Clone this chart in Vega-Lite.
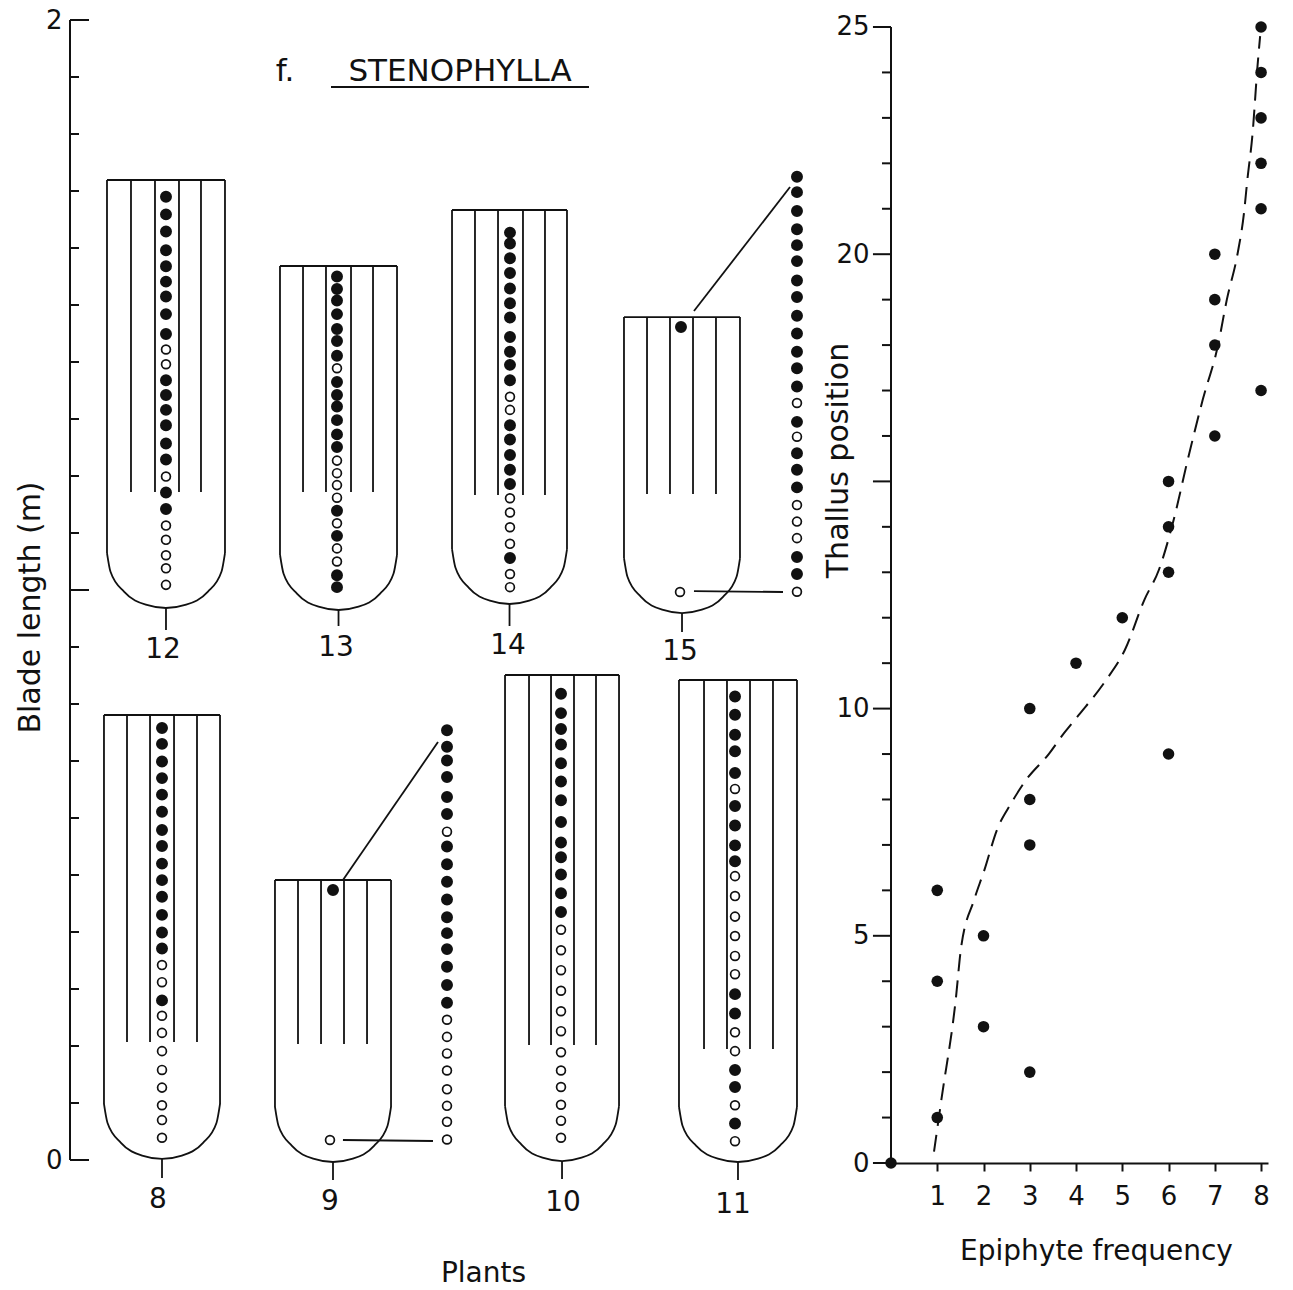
{
  "$schema": "https://vega.github.io/schema/vega-lite/v6.json",
  "background": "white",
  "padding": {"left": 15, "top": 7, "right": 5, "bottom": 5},
  "config": {
    "view": {"stroke": null},
    "font": "DejaVu Sans",
    "axis": {"grid": false, "labelFont": "DejaVu Sans", "titleFont": "DejaVu Sans", "labelFontSize": 26, "titleFontWeight": "normal", "labelColor": "#111", "titleColor": "#111", "domainColor": "#111", "tickColor": "#111", "domainWidth": 2, "tickWidth": 2},
    "text": {"font": "DejaVu Sans", "color": "#111"}
  },
  "datasets": {
    "segs": [
      {"x":0.0649,"y":1.7193,"x2":0.0649,"y2":1.0649},{"x":0.2719,"y":1.7193,"x2":0.2719,"y2":1.0649},{"x":0.0649,"y":1.7193,"x2":0.2719,"y2":1.7193},
      {"x":0.1070,"y":1.7193,"x2":0.1070,"y2":1.1719},{"x":0.1491,"y":1.7193,"x2":0.1491,"y2":1.1719},{"x":0.1912,"y":1.7193,"x2":0.1912,"y2":1.1719},{"x":0.2298,"y":1.7193,"x2":0.2298,"y2":1.1719},
      {"x":0.1684,"y":0.9684,"x2":0.1684,"y2":0.9298},
      {"x":0.3684,"y":1.5684,"x2":0.3684,"y2":1.0614},{"x":0.5737,"y":1.5684,"x2":0.5737,"y2":1.0614},{"x":0.3684,"y":1.5684,"x2":0.5737,"y2":1.5684},
      {"x":0.4088,"y":1.5684,"x2":0.4088,"y2":1.1719},{"x":0.4491,"y":1.5684,"x2":0.4491,"y2":1.1719},{"x":0.4930,"y":1.5684,"x2":0.4930,"y2":1.1719},{"x":0.5316,"y":1.5684,"x2":0.5316,"y2":1.1719},
      {"x":0.4711,"y":0.9649,"x2":0.4711,"y2":0.9368},
      {"x":0.6702,"y":1.6667,"x2":0.6702,"y2":1.0719},{"x":0.8719,"y":1.6667,"x2":0.8719,"y2":1.0719},{"x":0.6702,"y":1.6667,"x2":0.8719,"y2":1.6667},
      {"x":0.7105,"y":1.6667,"x2":0.7105,"y2":1.1667},{"x":0.7509,"y":1.6667,"x2":0.7509,"y2":1.1667},{"x":0.7947,"y":1.6667,"x2":0.7947,"y2":1.1667},{"x":0.8333,"y":1.6667,"x2":0.8333,"y2":1.1667},
      {"x":0.7711,"y":0.9754,"x2":0.7711,"y2":0.9368},
      {"x":0.9719,"y":1.4789,"x2":0.9719,"y2":1.0561},{"x":1.1754,"y":1.4789,"x2":1.1754,"y2":1.0561},{"x":0.9719,"y":1.4789,"x2":1.1754,"y2":1.4789},
      {"x":1.0123,"y":1.4789,"x2":1.0123,"y2":1.1684},{"x":1.0526,"y":1.4789,"x2":1.0526,"y2":1.1684},{"x":1.0930,"y":1.4789,"x2":1.0930,"y2":1.1684},{"x":1.1333,"y":1.4789,"x2":1.1333,"y2":1.1684},
      {"x":1.0737,"y":0.9596,"x2":1.0737,"y2":0.9263},
      {"x":1.0947,"y":1.4895,"x2":1.2632,"y2":1.7070},{"x":1.0947,"y":0.9982,"x2":1.2509,"y2":0.9965},
      {"x":0.0596,"y":0.7807,"x2":0.0596,"y2":0.0983},{"x":0.2632,"y":0.7807,"x2":0.2632,"y2":0.0983},{"x":0.0596,"y":0.7807,"x2":0.2632,"y2":0.7807},
      {"x":0.1000,"y":0.7807,"x2":0.1000,"y2":0.2070},{"x":0.1404,"y":0.7807,"x2":0.1404,"y2":0.2070},{"x":0.1825,"y":0.7807,"x2":0.1825,"y2":0.2070},{"x":0.2228,"y":0.7807,"x2":0.2228,"y2":0.2070},
      {"x":0.1614,"y":0.0018,"x2":0.1614,"y2":-0.0316},
      {"x":0.3596,"y":0.4912,"x2":0.3596,"y2":0.0930},{"x":0.5632,"y":0.4912,"x2":0.5632,"y2":0.0930},{"x":0.3596,"y":0.4912,"x2":0.5632,"y2":0.4912},
      {"x":0.4000,"y":0.4912,"x2":0.4000,"y2":0.2035},{"x":0.4404,"y":0.4912,"x2":0.4404,"y2":0.2035},{"x":0.4807,"y":0.4912,"x2":0.4807,"y2":0.2035},{"x":0.5211,"y":0.4912,"x2":0.5211,"y2":0.2035},
      {"x":0.4614,"y":-0.0035,"x2":0.4614,"y2":-0.0351},
      {"x":0.4789,"y":0.4912,"x2":0.6456,"y2":0.7333},{"x":0.4789,"y":0.0351,"x2":0.6368,"y2":0.0333},
      {"x":0.7632,"y":0.8509,"x2":0.7632,"y2":0.0947},{"x":0.9632,"y":0.8509,"x2":0.9632,"y2":0.0947},{"x":0.7632,"y":0.8509,"x2":0.9632,"y2":0.8509},
      {"x":0.8053,"y":0.8509,"x2":0.8053,"y2":0.2018},{"x":0.8439,"y":0.8509,"x2":0.8439,"y2":0.2018},{"x":0.8842,"y":0.8509,"x2":0.8842,"y2":0.2018},{"x":0.9228,"y":0.8509,"x2":0.9228,"y2":0.2018},
      {"x":0.8632,"y":-0.0018,"x2":0.8632,"y2":-0.0333},
      {"x":1.0684,"y":0.8421,"x2":1.0684,"y2":0.0930},{"x":1.2754,"y":0.8421,"x2":1.2754,"y2":0.0930},{"x":1.0684,"y":0.8421,"x2":1.2754,"y2":0.8421},
      {"x":1.1123,"y":0.8421,"x2":1.1123,"y2":0.1947},{"x":1.1526,"y":0.8421,"x2":1.1526,"y2":0.1947},{"x":1.1930,"y":0.8421,"x2":1.1930,"y2":0.1947},{"x":1.2333,"y":0.8421,"x2":1.2333,"y2":0.1947},
      {"x":1.1719,"y":-0.0035,"x2":1.1719,"y2":-0.0351},
      {"x":0.4579,"y":1.8825,"x2":0.9105,"y2":1.8825}
    ],
    "lax": [
      {"x":0,"y":0,"x2":0,"y2":2},
      {"x":0,"y":0,"x2":0.0333,"y2":0},{"x":0,"y":0.1,"x2":0.0158,"y2":0.1},{"x":0,"y":0.2,"x2":0.0158,"y2":0.2},{"x":0,"y":0.3,"x2":0.0158,"y2":0.3},
      {"x":0,"y":0.4,"x2":0.0158,"y2":0.4},{"x":0,"y":0.5,"x2":0.0158,"y2":0.5},{"x":0,"y":0.6,"x2":0.0158,"y2":0.6},{"x":0,"y":0.7,"x2":0.0158,"y2":0.7},
      {"x":0,"y":0.8,"x2":0.0158,"y2":0.8},{"x":0,"y":0.9,"x2":0.0158,"y2":0.9},{"x":0,"y":1,"x2":0.0333,"y2":1},{"x":0,"y":1.1,"x2":0.0158,"y2":1.1},
      {"x":0,"y":1.2,"x2":0.0158,"y2":1.2},{"x":0,"y":1.3,"x2":0.0158,"y2":1.3},{"x":0,"y":1.4,"x2":0.0158,"y2":1.4},{"x":0,"y":1.5,"x2":0.0158,"y2":1.5},
      {"x":0,"y":1.6,"x2":0.0158,"y2":1.6},{"x":0,"y":1.7,"x2":0.0158,"y2":1.7},{"x":0,"y":1.8,"x2":0.0158,"y2":1.8},{"x":0,"y":1.9,"x2":0.0158,"y2":1.9},
      {"x":0,"y":2,"x2":0.0333,"y2":2}
    ],
    "ucurve": [
      {"p":12,"x":0.0649,"y":1.0649},{"p":12,"x":0.0711,"y":1.0319},{"p":12,"x":0.0952,"y":0.9967},{"p":12,"x":0.1330,"y":0.9742},{"p":12,"x":0.1684,"y":0.9684},{"p":12,"x":0.2038,"y":0.9742},{"p":12,"x":0.2416,"y":0.9967},{"p":12,"x":0.2657,"y":1.0319},{"p":12,"x":0.2719,"y":1.0649},
      {"p":13,"x":0.3685,"y":1.0614},{"p":13,"x":0.3747,"y":1.0284},{"p":13,"x":0.3986,"y":0.9932},{"p":13,"x":0.4360,"y":0.9707},{"p":13,"x":0.4711,"y":0.9649},{"p":13,"x":0.5062,"y":0.9707},{"p":13,"x":0.5436,"y":0.9932},{"p":13,"x":0.5675,"y":1.0284},{"p":13,"x":0.5737,"y":1.0614},
      {"p":14,"x":0.6702,"y":1.0719},{"p":14,"x":0.6763,"y":1.0389},{"p":14,"x":0.6998,"y":1.0037},{"p":14,"x":0.7366,"y":0.9812},{"p":14,"x":0.7711,"y":0.9754},{"p":14,"x":0.8056,"y":0.9812},{"p":14,"x":0.8424,"y":1.0037},{"p":14,"x":0.8659,"y":1.0389},{"p":14,"x":0.8720,"y":1.0719},
      {"p":15,"x":0.9719,"y":1.0561},{"p":15,"x":0.9780,"y":1.0231},{"p":15,"x":1.0017,"y":0.9879},{"p":15,"x":1.0389,"y":0.9654},{"p":15,"x":1.0737,"y":0.9596},{"p":15,"x":1.1085,"y":0.9654},{"p":15,"x":1.1457,"y":0.9879},{"p":15,"x":1.1694,"y":1.0231},{"p":15,"x":1.1755,"y":1.0561},
      {"p":8,"x":0.0596,"y":0.0983},{"p":8,"x":0.0657,"y":0.0653},{"p":8,"x":0.0894,"y":0.0301},{"p":8,"x":0.1266,"y":0.0076},{"p":8,"x":0.1614,"y":0.0018},{"p":8,"x":0.1962,"y":0.0076},{"p":8,"x":0.2334,"y":0.0301},{"p":8,"x":0.2571,"y":0.0653},{"p":8,"x":0.2632,"y":0.0983},
      {"p":9,"x":0.3596,"y":0.0930},{"p":9,"x":0.3657,"y":0.0600},{"p":9,"x":0.3894,"y":0.0248},{"p":9,"x":0.4266,"y":0.0023},{"p":9,"x":0.4614,"y":-0.0035},{"p":9,"x":0.4962,"y":0.0023},{"p":9,"x":0.5334,"y":0.0248},{"p":9,"x":0.5571,"y":0.0600},{"p":9,"x":0.5632,"y":0.0930},
      {"p":10,"x":0.7632,"y":0.0947},{"p":10,"x":0.7692,"y":0.0617},{"p":10,"x":0.7925,"y":0.0265},{"p":10,"x":0.8290,"y":0.0040},{"p":10,"x":0.8632,"y":-0.0018},{"p":10,"x":0.8974,"y":0.0040},{"p":10,"x":0.9339,"y":0.0265},{"p":10,"x":0.9572,"y":0.0617},{"p":10,"x":0.9632,"y":0.0947},
      {"p":11,"x":1.0684,"y":0.0930},{"p":11,"x":1.0746,"y":0.0600},{"p":11,"x":1.0987,"y":0.0248},{"p":11,"x":1.1365,"y":0.0023},{"p":11,"x":1.1719,"y":-0.0035},{"p":11,"x":1.2073,"y":0.0023},{"p":11,"x":1.2451,"y":0.0248},{"p":11,"x":1.2692,"y":0.0600},{"p":11,"x":1.2754,"y":0.0930}
    ],
    "dots": [
      {"p":12,"n":25,"f":1,"x":0.1684,"y":1.690},{"p":12,"n":24,"f":1,"x":0.1684,"y":1.659},{"p":12,"n":23,"f":1,"x":0.1684,"y":1.629},{"p":12,"n":22,"f":1,"x":0.1684,"y":1.596},{"p":12,"n":21,"f":1,"x":0.1684,"y":1.568},
      {"p":12,"n":20,"f":1,"x":0.1684,"y":1.541},{"p":12,"n":19,"f":1,"x":0.1684,"y":1.515},{"p":12,"n":18,"f":1,"x":0.1684,"y":1.484},{"p":12,"n":17,"f":1,"x":0.1684,"y":1.449},{"p":12,"n":16,"f":0,"x":0.1684,"y":1.422},
      {"p":12,"n":15,"f":0,"x":0.1684,"y":1.396},{"p":12,"n":14,"f":1,"x":0.1684,"y":1.368},{"p":12,"n":13,"f":1,"x":0.1684,"y":1.342},{"p":12,"n":12,"f":1,"x":0.1684,"y":1.316},{"p":12,"n":11,"f":1,"x":0.1684,"y":1.289},
      {"p":12,"n":10,"f":1,"x":0.1684,"y":1.257},{"p":12,"n":9,"f":1,"x":0.1684,"y":1.229},{"p":12,"n":8,"f":0,"x":0.1684,"y":1.199},{"p":12,"n":7,"f":1,"x":0.1684,"y":1.171},{"p":12,"n":6,"f":1,"x":0.1684,"y":1.142},
      {"p":12,"n":5,"f":0,"x":0.1684,"y":1.113},{"p":12,"n":4,"f":0,"x":0.1684,"y":1.088},{"p":12,"n":3,"f":0,"x":0.1684,"y":1.061},{"p":12,"n":2,"f":0,"x":0.1684,"y":1.038},{"p":12,"n":1,"f":0,"x":0.1684,"y":1.009},
      {"p":13,"n":25,"f":1,"x":0.4684,"y":1.550},{"p":13,"n":24,"f":1,"x":0.4684,"y":1.528},{"p":13,"n":23,"f":1,"x":0.4684,"y":1.508},{"p":13,"n":22,"f":1,"x":0.4684,"y":1.484},{"p":13,"n":21,"f":1,"x":0.4684,"y":1.458},
      {"p":13,"n":20,"f":1,"x":0.4684,"y":1.437},{"p":13,"n":19,"f":1,"x":0.4684,"y":1.411},{"p":13,"n":18,"f":0,"x":0.4684,"y":1.389},{"p":13,"n":17,"f":1,"x":0.4684,"y":1.365},{"p":13,"n":16,"f":1,"x":0.4684,"y":1.342},
      {"p":13,"n":15,"f":1,"x":0.4684,"y":1.322},{"p":13,"n":14,"f":1,"x":0.4684,"y":1.298},{"p":13,"n":13,"f":1,"x":0.4684,"y":1.273},{"p":13,"n":12,"f":1,"x":0.4684,"y":1.251},{"p":13,"n":11,"f":0,"x":0.4684,"y":1.227},
      {"p":13,"n":10,"f":0,"x":0.4684,"y":1.205},{"p":13,"n":9,"f":0,"x":0.4684,"y":1.184},{"p":13,"n":8,"f":0,"x":0.4684,"y":1.162},{"p":13,"n":7,"f":1,"x":0.4684,"y":1.139},{"p":13,"n":6,"f":0,"x":0.4684,"y":1.117},
      {"p":13,"n":5,"f":1,"x":0.4684,"y":1.095},{"p":13,"n":4,"f":0,"x":0.4684,"y":1.073},{"p":13,"n":3,"f":0,"x":0.4684,"y":1.050},{"p":13,"n":2,"f":1,"x":0.4684,"y":1.026},{"p":13,"n":1,"f":1,"x":0.4684,"y":1.005},
      {"p":14,"n":25,"f":1,"x":0.7719,"y":1.627},{"p":14,"n":24,"f":1,"x":0.7719,"y":1.608},{"p":14,"n":23,"f":1,"x":0.7719,"y":1.582},{"p":14,"n":22,"f":1,"x":0.7719,"y":1.556},{"p":14,"n":21,"f":1,"x":0.7719,"y":1.529},
      {"p":14,"n":20,"f":1,"x":0.7719,"y":1.503},{"p":14,"n":19,"f":1,"x":0.7719,"y":1.478},{"p":14,"n":18,"f":1,"x":0.7719,"y":1.444},{"p":14,"n":17,"f":1,"x":0.7719,"y":1.418},{"p":14,"n":16,"f":1,"x":0.7719,"y":1.395},
      {"p":14,"n":15,"f":1,"x":0.7719,"y":1.368},{"p":14,"n":14,"f":0,"x":0.7719,"y":1.339},{"p":14,"n":13,"f":0,"x":0.7719,"y":1.316},{"p":14,"n":12,"f":1,"x":0.7719,"y":1.289},{"p":14,"n":11,"f":1,"x":0.7719,"y":1.264},
      {"p":14,"n":10,"f":1,"x":0.7719,"y":1.237},{"p":14,"n":9,"f":1,"x":0.7719,"y":1.211},{"p":14,"n":8,"f":1,"x":0.7719,"y":1.186},{"p":14,"n":7,"f":0,"x":0.7719,"y":1.161},{"p":14,"n":6,"f":0,"x":0.7719,"y":1.136},
      {"p":14,"n":5,"f":0,"x":0.7719,"y":1.110},{"p":14,"n":4,"f":0,"x":0.7719,"y":1.081},{"p":14,"n":3,"f":1,"x":0.7719,"y":1.056},{"p":14,"n":2,"f":0,"x":0.7719,"y":1.028},{"p":14,"n":1,"f":0,"x":0.7719,"y":1.005},
      {"p":15,"n":25,"f":1,"x":1.2754,"y":1.725},{"p":15,"n":24,"f":1,"x":1.2754,"y":1.698},{"p":15,"n":23,"f":1,"x":1.2754,"y":1.665},{"p":15,"n":22,"f":1,"x":1.2754,"y":1.633},{"p":15,"n":21,"f":1,"x":1.2754,"y":1.605},
      {"p":15,"n":20,"f":1,"x":1.2754,"y":1.577},{"p":15,"n":19,"f":1,"x":1.2754,"y":1.543},{"p":15,"n":18,"f":1,"x":1.2754,"y":1.514},{"p":15,"n":17,"f":1,"x":1.2754,"y":1.481},{"p":15,"n":16,"f":1,"x":1.2754,"y":1.450},
      {"p":15,"n":15,"f":1,"x":1.2754,"y":1.418},{"p":15,"n":14,"f":1,"x":1.2754,"y":1.389},{"p":15,"n":13,"f":1,"x":1.2754,"y":1.357},{"p":15,"n":12,"f":0,"x":1.2754,"y":1.328},{"p":15,"n":11,"f":1,"x":1.2754,"y":1.295},
      {"p":15,"n":10,"f":0,"x":1.2754,"y":1.269},{"p":15,"n":9,"f":1,"x":1.2754,"y":1.240},{"p":15,"n":8,"f":1,"x":1.2754,"y":1.211},{"p":15,"n":7,"f":1,"x":1.2754,"y":1.180},{"p":15,"n":6,"f":0,"x":1.2754,"y":1.149},
      {"p":15,"n":5,"f":0,"x":1.2754,"y":1.120},{"p":15,"n":4,"f":0,"x":1.2754,"y":1.091},{"p":15,"n":3,"f":1,"x":1.2754,"y":1.058},{"p":15,"n":2,"f":1,"x":1.2754,"y":1.028},{"p":15,"n":1,"f":0,"x":1.2754,"y":0.997},
      {"p":15,"n":25,"f":1,"x":1.0719,"y":1.4614,"k":"inset"},{"p":15,"n":1,"f":0,"x":1.0702,"y":0.9965,"k":"inset"},
      {"p":8,"n":25,"f":1,"x":0.1614,"y":0.758},{"p":8,"n":24,"f":1,"x":0.1614,"y":0.730},{"p":8,"n":23,"f":1,"x":0.1614,"y":0.699},{"p":8,"n":22,"f":1,"x":0.1614,"y":0.670},{"p":8,"n":21,"f":1,"x":0.1614,"y":0.641},
      {"p":8,"n":20,"f":1,"x":0.1614,"y":0.611},{"p":8,"n":19,"f":1,"x":0.1614,"y":0.579},{"p":8,"n":18,"f":1,"x":0.1614,"y":0.551},{"p":8,"n":17,"f":1,"x":0.1614,"y":0.520},{"p":8,"n":16,"f":1,"x":0.1614,"y":0.491},
      {"p":8,"n":15,"f":1,"x":0.1614,"y":0.462},{"p":8,"n":14,"f":1,"x":0.1614,"y":0.430},{"p":8,"n":13,"f":1,"x":0.1614,"y":0.399},{"p":8,"n":12,"f":1,"x":0.1614,"y":0.371},{"p":8,"n":11,"f":0,"x":0.1614,"y":0.342},
      {"p":8,"n":10,"f":0,"x":0.1614,"y":0.312},{"p":8,"n":9,"f":1,"x":0.1614,"y":0.280},{"p":8,"n":8,"f":0,"x":0.1614,"y":0.253},{"p":8,"n":7,"f":0,"x":0.1614,"y":0.223},{"p":8,"n":6,"f":0,"x":0.1614,"y":0.191},
      {"p":8,"n":5,"f":0,"x":0.1614,"y":0.158},{"p":8,"n":4,"f":0,"x":0.1614,"y":0.127},{"p":8,"n":3,"f":0,"x":0.1614,"y":0.096},{"p":8,"n":2,"f":0,"x":0.1614,"y":0.070},{"p":8,"n":1,"f":0,"x":0.1614,"y":0.039},
      {"p":9,"n":25,"f":1,"x":0.6614,"y":0.754},{"p":9,"n":24,"f":1,"x":0.6614,"y":0.725},{"p":9,"n":23,"f":1,"x":0.6614,"y":0.701},{"p":9,"n":22,"f":1,"x":0.6614,"y":0.672},{"p":9,"n":21,"f":1,"x":0.6614,"y":0.637},
      {"p":9,"n":20,"f":1,"x":0.6614,"y":0.607},{"p":9,"n":19,"f":0,"x":0.6614,"y":0.576},{"p":9,"n":18,"f":1,"x":0.6614,"y":0.550},{"p":9,"n":17,"f":1,"x":0.6614,"y":0.519},{"p":9,"n":16,"f":1,"x":0.6614,"y":0.488},
      {"p":9,"n":15,"f":1,"x":0.6614,"y":0.457},{"p":9,"n":14,"f":1,"x":0.6614,"y":0.426},{"p":9,"n":13,"f":1,"x":0.6614,"y":0.398},{"p":9,"n":12,"f":1,"x":0.6614,"y":0.370},{"p":9,"n":11,"f":1,"x":0.6614,"y":0.339},
      {"p":9,"n":10,"f":1,"x":0.6614,"y":0.307},{"p":9,"n":9,"f":1,"x":0.6614,"y":0.276},{"p":9,"n":8,"f":0,"x":0.6614,"y":0.246},{"p":9,"n":7,"f":0,"x":0.6614,"y":0.216},{"p":9,"n":6,"f":0,"x":0.6614,"y":0.187},
      {"p":9,"n":5,"f":0,"x":0.6614,"y":0.157},{"p":9,"n":4,"f":0,"x":0.6614,"y":0.124},{"p":9,"n":3,"f":0,"x":0.6614,"y":0.095},{"p":9,"n":2,"f":0,"x":0.6614,"y":0.067},{"p":9,"n":1,"f":0,"x":0.6614,"y":0.036},
      {"p":9,"n":25,"f":1,"x":0.4614,"y":0.4737,"k":"inset"},{"p":9,"n":1,"f":0,"x":0.4561,"y":0.0351,"k":"inset"},
      {"p":10,"n":25,"f":1,"x":0.8614,"y":0.818},{"p":10,"n":24,"f":1,"x":0.8614,"y":0.784},{"p":10,"n":23,"f":1,"x":0.8614,"y":0.756},{"p":10,"n":22,"f":1,"x":0.8614,"y":0.729},{"p":10,"n":21,"f":1,"x":0.8614,"y":0.696},
      {"p":10,"n":20,"f":1,"x":0.8614,"y":0.664},{"p":10,"n":19,"f":1,"x":0.8614,"y":0.631},{"p":10,"n":18,"f":1,"x":0.8614,"y":0.593},{"p":10,"n":17,"f":1,"x":0.8614,"y":0.557},{"p":10,"n":16,"f":1,"x":0.8614,"y":0.531},
      {"p":10,"n":15,"f":1,"x":0.8614,"y":0.501},{"p":10,"n":14,"f":1,"x":0.8614,"y":0.468},{"p":10,"n":13,"f":1,"x":0.8614,"y":0.435},{"p":10,"n":12,"f":0,"x":0.8614,"y":0.404},{"p":10,"n":11,"f":0,"x":0.8614,"y":0.368},
      {"p":10,"n":10,"f":0,"x":0.8614,"y":0.333},{"p":10,"n":9,"f":0,"x":0.8614,"y":0.297},{"p":10,"n":8,"f":0,"x":0.8614,"y":0.261},{"p":10,"n":7,"f":0,"x":0.8614,"y":0.226},{"p":10,"n":6,"f":0,"x":0.8614,"y":0.189},
      {"p":10,"n":5,"f":0,"x":0.8614,"y":0.157},{"p":10,"n":4,"f":0,"x":0.8614,"y":0.128},{"p":10,"n":3,"f":0,"x":0.8614,"y":0.097},{"p":10,"n":2,"f":0,"x":0.8614,"y":0.069},{"p":10,"n":1,"f":0,"x":0.8614,"y":0.039},
      {"p":11,"n":25,"f":1,"x":1.1667,"y":0.813},{"p":11,"n":24,"f":1,"x":1.1667,"y":0.781},{"p":11,"n":23,"f":1,"x":1.1667,"y":0.746},{"p":11,"n":22,"f":1,"x":1.1667,"y":0.717},{"p":11,"n":21,"f":1,"x":1.1667,"y":0.679},
      {"p":11,"n":20,"f":0,"x":1.1667,"y":0.651},{"p":11,"n":19,"f":1,"x":1.1667,"y":0.621},{"p":11,"n":18,"f":1,"x":1.1667,"y":0.587},{"p":11,"n":17,"f":1,"x":1.1667,"y":0.552},{"p":11,"n":16,"f":1,"x":1.1667,"y":0.524},
      {"p":11,"n":15,"f":0,"x":1.1667,"y":0.498},{"p":11,"n":14,"f":0,"x":1.1667,"y":0.463},{"p":11,"n":13,"f":0,"x":1.1667,"y":0.427},{"p":11,"n":12,"f":0,"x":1.1667,"y":0.393},{"p":11,"n":11,"f":0,"x":1.1667,"y":0.358},
      {"p":11,"n":10,"f":0,"x":1.1667,"y":0.326},{"p":11,"n":9,"f":1,"x":1.1667,"y":0.291},{"p":11,"n":8,"f":1,"x":1.1667,"y":0.257},{"p":11,"n":7,"f":0,"x":1.1667,"y":0.224},{"p":11,"n":6,"f":0,"x":1.1667,"y":0.191},
      {"p":11,"n":5,"f":1,"x":1.1667,"y":0.158},{"p":11,"n":4,"f":1,"x":1.1667,"y":0.128},{"p":11,"n":3,"f":0,"x":1.1667,"y":0.096},{"p":11,"n":2,"f":1,"x":1.1667,"y":0.064},{"p":11,"n":1,"f":0,"x":1.1667,"y":0.033}
    ],
    "plab": [
      {"t":"12","x":0.1632,"y":0.8947},{"t":"13","x":0.4667,"y":0.8982},{"t":"14","x":0.7684,"y":0.9018},{"t":"15","x":1.0702,"y":0.8912},
      {"t":"8","x":0.1544,"y":-0.0702},{"t":"9","x":0.4561,"y":-0.0737},{"t":"10","x":0.8649,"y":-0.0754},{"t":"11","x":1.1632,"y":-0.0789}
    ],
    "ttl": [
      {"t":"f.","x":0.3772,"y":1.893},{"t":"STENOPHYLLA","x":0.6842,"y":1.893}
    ],
    "pts": [
      {"freq":0,"pos":0},{"freq":1,"pos":1},{"freq":3,"pos":2},{"freq":2,"pos":3},{"freq":1,"pos":4},{"freq":2,"pos":5},
      {"freq":1,"pos":6},{"freq":3,"pos":7},{"freq":3,"pos":8},{"freq":6,"pos":9},{"freq":3,"pos":10},{"freq":4,"pos":11},
      {"freq":5,"pos":12},{"freq":6,"pos":13},{"freq":6,"pos":14},{"freq":6,"pos":15},{"freq":7,"pos":16},{"freq":8,"pos":17},
      {"freq":7,"pos":18},{"freq":7,"pos":19},{"freq":7,"pos":20},{"freq":8,"pos":21},{"freq":8,"pos":22},{"freq":8,"pos":23},
      {"freq":8,"pos":24},{"freq":8,"pos":25}
    ],
    "curve": [
      {"freq":0.93,"pos":0.25},{"freq":1.09,"pos":1.4},{"freq":1.40,"pos":3.6},{"freq":1.51,"pos":4.7},{"freq":1.80,"pos":5.8},
      {"freq":2.02,"pos":6.45},{"freq":2.29,"pos":7.33},{"freq":2.60,"pos":7.92},{"freq":2.92,"pos":8.43},{"freq":3.41,"pos":9.0},
      {"freq":3.74,"pos":9.46},{"freq":4.06,"pos":9.86},{"freq":4.63,"pos":10.6},{"freq":5.06,"pos":11.3},{"freq":5.48,"pos":12.4},
      {"freq":5.79,"pos":13.05},{"freq":6.11,"pos":14.15},{"freq":6.42,"pos":15.5},{"freq":6.74,"pos":16.8},{"freq":7.07,"pos":18.0},
      {"freq":7.26,"pos":19.0},{"freq":7.49,"pos":20.0},{"freq":7.63,"pos":20.9},{"freq":7.70,"pos":21.6},{"freq":7.82,"pos":22.7},
      {"freq":7.92,"pos":24.1},{"freq":7.98,"pos":24.8}
    ],
    "rax": [
      {"freq":0,"pos":0,"freq2":0,"pos2":25},
      {"freq":0,"pos":0,"freq2":-0.39,"pos2":0},{"freq":0,"pos":1,"freq2":-0.195,"pos2":1},{"freq":0,"pos":2,"freq2":-0.195,"pos2":2},
      {"freq":0,"pos":3,"freq2":-0.195,"pos2":3},{"freq":0,"pos":4,"freq2":-0.195,"pos2":4},{"freq":0,"pos":5,"freq2":-0.39,"pos2":5},
      {"freq":0,"pos":6,"freq2":-0.195,"pos2":6},{"freq":0,"pos":7,"freq2":-0.195,"pos2":7},{"freq":0,"pos":8,"freq2":-0.195,"pos2":8},
      {"freq":0,"pos":9,"freq2":-0.195,"pos2":9},{"freq":0,"pos":10,"freq2":-0.39,"pos2":10},{"freq":0,"pos":11,"freq2":-0.195,"pos2":11},
      {"freq":0,"pos":12,"freq2":-0.195,"pos2":12},{"freq":0,"pos":13,"freq2":-0.195,"pos2":13},{"freq":0,"pos":14,"freq2":-0.195,"pos2":14},
      {"freq":0,"pos":15,"freq2":-0.39,"pos2":15},{"freq":0,"pos":16,"freq2":-0.195,"pos2":16},{"freq":0,"pos":17,"freq2":-0.195,"pos2":17},
      {"freq":0,"pos":18,"freq2":-0.195,"pos2":18},{"freq":0,"pos":19,"freq2":-0.195,"pos2":19},{"freq":0,"pos":20,"freq2":-0.39,"pos2":20},
      {"freq":0,"pos":21,"freq2":-0.195,"pos2":21},{"freq":0,"pos":22,"freq2":-0.195,"pos2":22},{"freq":0,"pos":23,"freq2":-0.195,"pos2":23},
      {"freq":0,"pos":24,"freq2":-0.195,"pos2":24},{"freq":0,"pos":25,"freq2":-0.39,"pos2":25}
    ]
  },
  "bounds": "flush",
  "spacing": 80,
  "hconcat": [
    {
      "width": 741,
      "height": 1140,
      "encoding": {
        "x": {"field": "x", "type": "quantitative", "scale": {"domain": [0, 1.3], "nice": false, "zero": false},
              "axis": {"title": "Plants", "labels": false, "ticks": false, "domain": false, "titlePadding": 99, "titleX": 413, "titleFontSize": 28}},
        "y": {"field": "y", "type": "quantitative", "scale": {"domain": [0, 2], "nice": false, "zero": false},
              "axis": {"title": "Blade length (m)", "values": [0, 1, 2], "format": "d", "ticks": false, "domain": false, "labelPadding": 8, "titleX": -25, "titleY": 587, "titleFontSize": 30}}
      },
      "layer": [
        {"data": {"name": "segs"}, "mark": {"type": "rule", "strokeWidth": 1.8, "color": "#111"},
         "encoding": {"x2": {"field": "x2"}, "y2": {"field": "y2"}}},
        {"data": {"name": "lax"}, "mark": {"type": "rule", "strokeWidth": 2, "color": "#111"},
         "encoding": {"x2": {"field": "x2"}, "y2": {"field": "y2"}}},
        {"data": {"name": "ucurve"}, "mark": {"type": "line", "interpolate": "monotone", "strokeWidth": 1.8, "color": "#111"},
         "encoding": {"detail": {"field": "p", "type": "nominal"}}},
        {"data": {"name": "dots"}, "mark": {"type": "circle", "stroke": "#111", "strokeWidth": 1.7, "opacity": 1},
         "encoding": {
           "fill": {"condition": {"test": "datum.f == 1", "value": "#111"}, "value": "white"},
           "size": {"condition": {"test": "datum.f == 1", "value": 105}, "value": 78}
         }},
        {"data": {"name": "plab"}, "mark": {"type": "text", "fontSize": 28, "align": "center", "baseline": "middle", "color": "#111"},
         "encoding": {"text": {"field": "t"}}},
        {"data": {"name": "ttl"}, "mark": {"type": "text", "fontSize": 31, "align": "center", "baseline": "alphabetic", "color": "#111"},
         "encoding": {"text": {"field": "t"}}}
      ]
    },
    {
      "width": 377,
      "height": 1143,
      "encoding": {
        "x": {"field": "freq", "type": "quantitative", "scale": {"domain": [0, 8.15], "nice": false, "zero": false},
              "axis": {"title": "Epiphyte frequency", "values": [1, 2, 3, 4, 5, 6, 7, 8], "tickSize": 8, "labelPadding": 12, "titlePadding": 28, "titleX": 205, "titleFontSize": 28}},
        "y": {"field": "pos", "type": "quantitative", "scale": {"domain": [0, 25.154], "nice": false, "zero": false},
              "axis": {"title": "Thallus position", "values": [0, 5, 10, 20, 25], "ticks": false, "domain": false, "labelPadding": 22, "titleX": -38, "titleY": 440, "titleFontSize": 30}}
      },
      "layer": [
        {"data": {"name": "rax"}, "mark": {"type": "rule", "strokeWidth": 2, "color": "#111"},
         "encoding": {"x2": {"field": "freq2"}, "y2": {"field": "pos2"}}},
        {"data": {"name": "curve"}, "mark": {"type": "line", "interpolate": "monotone", "strokeDash": [17, 9], "strokeWidth": 2, "color": "#111"}},
        {"data": {"name": "pts"}, "mark": {"type": "circle", "size": 133, "color": "#111", "opacity": 1}}
      ]
    }
  ]
}
